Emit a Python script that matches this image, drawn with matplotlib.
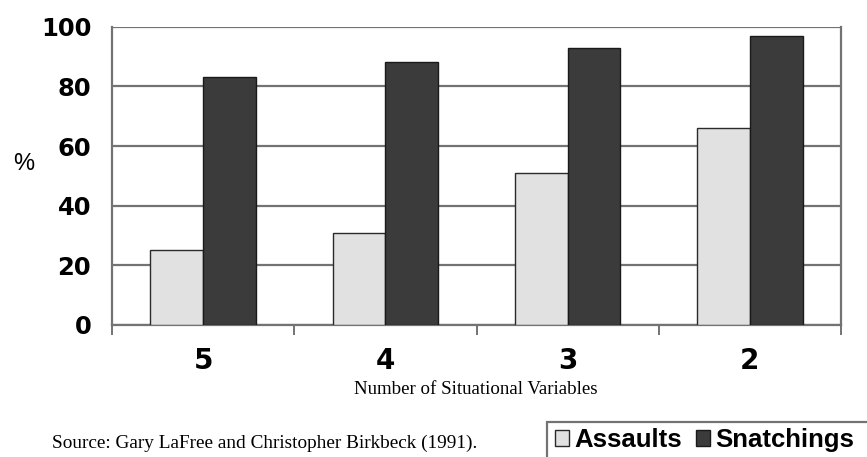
import matplotlib
matplotlib.use("Agg")
import matplotlib.pyplot as plt
from matplotlib.patches import Rectangle
import numpy as np

categories = ["5", "4", "3", "2"]
assaults = [25, 31, 51, 66]
snatchings = [83, 88, 93, 97]
series_names = ["Assaults", "Snatchings"]
yticks = [0, 20, 40, 60, 80, 100]

W, H = 867, 457
fig = plt.figure(figsize=(W / 100, H / 100), dpi=100)
fig.patch.set_facecolor("white")
ax = fig.add_axes([112 / W, 1 - 325 / H, 729 / W, 298.3 / H])

x = np.arange(len(categories))
bw = 0.29
grid_col = "#737373"
b1 = ax.bar(x - bw / 2, assaults, bw, color="#e1e1e1", edgecolor="#2a2a2a", linewidth=1.0,
            label=series_names[0], zorder=3)
b2 = ax.bar(x + bw / 2, snatchings, bw, color="#3b3b3b", edgecolor="#1a1a1a", linewidth=1.0,
            label=series_names[1], zorder=3)

ax.set_xlim(-0.5, len(categories) - 0.5)
ax.set_ylim(0, 100)
ax.set_yticks(yticks)
ax.set_yticklabels([str(v) for v in yticks], fontsize=17.5, fontweight="bold", family="DejaVu Sans")
ax.tick_params(axis="y", length=0, pad=15)
ax.yaxis.grid(True, color=grid_col, linewidth=1.6, zorder=0)
ax.set_axisbelow(True)

ax.set_xticks(x)
ax.set_xticklabels(categories, fontsize=20, fontweight="bold", family="DejaVu Sans")
ax.tick_params(axis="x", which="major", length=0, pad=16)
ax.set_xticks(np.arange(len(categories) + 1) - 0.5, minor=True)
ax.tick_params(axis="x", which="minor", length=7.5, width=1.4, color=grid_col, direction="out")

for s in ["left", "right", "bottom"]:
    ax.spines[s].set_color(grid_col)
    ax.spines[s].set_linewidth(1.6)
ax.spines["top"].set_visible(False)

fig.text(24 / W, 1 - 164 / H, "%", fontsize=17, ha="center", va="center", family="Liberation Sans")
fig.text(476 / W, 1 - 390 / H, "Number of Situational Variables", fontsize=13.6, ha="center", va="center",
         family="Liberation Serif")
fig.text(52 / W, 1 - 443 / H, "Source: Gary LaFree and Christopher Birkbeck (1991).", fontsize=13.9,
         ha="left", va="center", family="Liberation Serif")

# legend box (partially cut off at figure edge, as in the reference)
fig.patches.append(Rectangle((547 / W, 1 - 462 / H), 330 / W, 40 / H, transform=fig.transFigure,
                             facecolor="white", edgecolor=grid_col, linewidth=1.6, zorder=5))
leg = fig.legend(handles=[b1, b2], labels=series_names, loc="center left",
                 bbox_to_anchor=(537 / W, 1 - 440 / H), ncol=2, frameon=False,
                 prop={"family": "Liberation Sans", "weight": "bold", "size": 18.5},
                 handlelength=0.55, handleheight=0.55, handletextpad=0.2, columnspacing=0.55,
                 borderpad=0.2)
leg.set_zorder(6)

fig.savefig("out.png", dpi=100, facecolor="white")
